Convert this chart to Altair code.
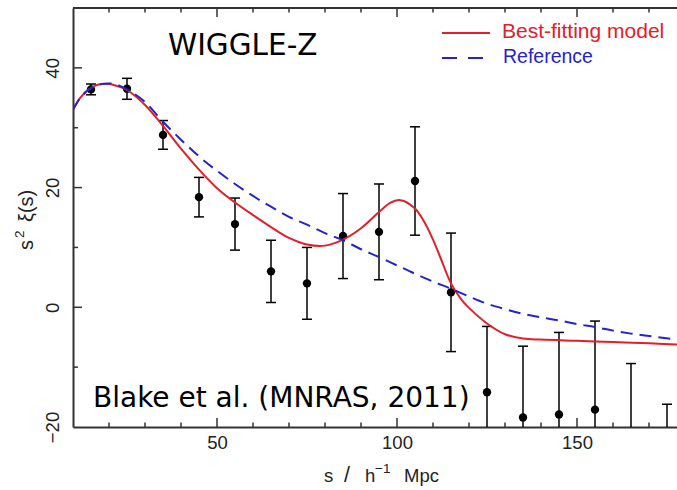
import altair as alt
import pandas as pd

# ---- data ----
s_pts = [15, 25, 35, 45, 55, 65, 75, 85, 95, 105, 115, 125, 135, 145, 155, 165, 175]
xi_pts = [36.4, 36.5, 28.8, 18.4, 13.9, 6.0, 4.0, 11.9, 12.6, 21.1, 2.5,
          -14.2, -18.4, -17.9, -17.1, -25.4, -33.2]
err_pts = [0.9, 1.75, 2.4, 3.3, 4.35, 5.2, 6.0, 7.1, 8.0, 9.05, 9.9,
           11.0, 11.9, 13.7, 14.8, 16.0, 17.0]

s_model = [10, 12, 14, 16, 18, 20, 22, 25, 30, 35, 40, 45, 50, 55, 60, 65, 70, 75, 80, 85,
           90, 95, 98, 101, 105, 108, 110, 112, 115, 118, 120, 125, 130, 135, 140, 150, 160,
           170, 180]
xi_model = [33.0, 35.0, 36.2, 37.0, 37.3, 37.3, 37.0, 36.3, 33.8, 30.3,
            26.5, 23.0, 19.9, 17.5, 15.4, 13.4, 11.6, 10.5, 10.3, 11.3,
            13.2, 15.9, 17.4, 17.9, 16.5, 13.8, 11.3, 8.4, 4.0, 1.2,
            -0.1, -2.7, -4.5, -5.2, -5.4, -5.6, -5.8, -6.0, -6.3]

s_ref = [10, 12, 14, 16, 18, 20, 22, 25, 30, 35, 40, 45, 50, 55, 60, 65, 70, 75, 80, 85,
         90, 95, 100, 105, 110, 115, 120, 125, 130, 135, 140, 145, 150, 155, 160, 165, 170, 180]
xi_ref = [33.0, 35.0, 36.2, 37.0, 37.3, 37.4, 37.2, 36.4, 34.3, 31.0,
          28.0, 25.2, 22.8, 20.6, 18.6, 16.8, 15.1, 13.8, 12.4, 11.2,
          9.7, 8.4, 7.0, 5.6, 4.3, 3.1, 1.8, 0.6, -0.3, -1.1,
          -1.7, -2.2, -2.8, -3.3, -3.9, -4.4, -4.8, -5.6]

x_labels = [50, 100, 150]
x_minor = [20, 30, 40, 60, 70, 80, 90, 110, 120, 130, 140, 160, 170]
y_labels = [-20, 0, 20, 40]
y_major = [0, 20, 40]
y_minor = [-10, 10, 30]

legend_names = ["Best-fitting model", "Reference"]
annot_title = "WIGGLE-Z"
annot_ref = "Blake et al. (MNRAS, 2011)"
x_title_parts = ["s", "/", "h", "−1", "Mpc"]
y_title_parts = ["s", "2", "ξ(s)"]

# ---- layout ----
W, H = 604, 419
PX_PER_UNIT = 3.6
RED = "#e0202a"
BLUE = "#2424c8"
INK = "#222222"
FONT = "Liberation Sans"
FS = 18.5

xs = alt.Scale(domain=[10, 10 + W / PX_PER_UNIT], nice=False, zero=False)
ys = alt.Scale(domain=[-20, 50], nice=False, zero=False)

pts = pd.DataFrame({"s": s_pts, "xi": xi_pts, "err": err_pts})
pts["lo"] = pts["xi"] - pts["err"]
pts["hi"] = pts["xi"] + pts["err"]
model = pd.DataFrame({"s": s_model, "xi": xi_model})
ref = pd.DataFrame({"s": s_ref, "xi": xi_ref})

x_axis = alt.Axis(values=x_labels, title=None, grid=False, ticks=False, tickSize=0,
                  labelFont=FONT, labelFontSize=FS, labelColor=INK, labelPadding=6,
                  labelFlush=False, labelOverlap=False,
                  domainColor="#333333", domainWidth=2)
y_axis = alt.Axis(values=y_labels, title=None, grid=False, ticks=False, tickSize=0,
                  labelFont=FONT, labelFontSize=FS, labelColor=INK, labelPadding=11,
                  labelAngle=270, labelAlign="center", labelBaseline="bottom",
                  labelFlush=False, labelOverlap=False,
                  domainColor="#333333", domainWidth=2)


def X(field):
    return alt.X(field, scale=xs, axis=x_axis)


def Y(field):
    return alt.Y(field, scale=ys, axis=y_axis)


bars = alt.Chart(pts).mark_rule(color="black", strokeWidth=1.5, clip=True).encode(
    x=X("s:Q"), y=Y("lo:Q"), y2="hi:Q")
caps_lo = alt.Chart(pts).mark_rule(color="black", strokeWidth=1.5, xOffset=-5, x2Offset=5,
                                   clip=True).encode(x=X("s:Q"), x2="s:Q", y=Y("lo:Q"))
caps_hi = alt.Chart(pts).mark_rule(color="black", strokeWidth=1.5, xOffset=-5, x2Offset=5,
                                   clip=True).encode(x=X("s:Q"), x2="s:Q", y=Y("hi:Q"))
dots = alt.Chart(pts).mark_circle(color="black", size=70, opacity=1, clip=True).encode(
    x=X("s:Q"), y=Y("xi:Q"))

red_line = alt.Chart(model).mark_line(color=RED, strokeWidth=2, interpolate="catmull-rom",
                                      clip=True).encode(x=X("s:Q"), y=Y("xi:Q"))
blue_line = alt.Chart(ref).mark_line(color=BLUE, strokeWidth=2, strokeDash=[12, 7],
                                     interpolate="monotone", clip=True).encode(
    x=X("s:Q"), y=Y("xi:Q"))

# inward ticks and top frame
one = pd.DataFrame({"k": [0]})
xmaj = pd.DataFrame({"s": x_labels})
xmin = pd.DataFrame({"s": x_minor})
ymaj = pd.DataFrame({"xi": y_major})
ymin = pd.DataFrame({"xi": y_minor})
TK = dict(color="#333333", strokeWidth=1.5)
tick_layers = [
    alt.Chart(xmaj).mark_rule(**TK).encode(x=X("s:Q"), y=alt.value(H), y2=alt.value(H - 9)),
    alt.Chart(xmin).mark_rule(**TK).encode(x=X("s:Q"), y=alt.value(H), y2=alt.value(H - 4.5)),
    alt.Chart(xmaj).mark_rule(**TK).encode(x=X("s:Q"), y=alt.value(0), y2=alt.value(9)),
    alt.Chart(xmin).mark_rule(**TK).encode(x=X("s:Q"), y=alt.value(0), y2=alt.value(4.5)),
    alt.Chart(ymaj).mark_rule(**TK).encode(y=Y("xi:Q"), x=alt.value(0), x2=alt.value(9)),
    alt.Chart(ymin).mark_rule(**TK).encode(y=Y("xi:Q"), x=alt.value(0), x2=alt.value(5)),
    alt.Chart(one).mark_rule(color="#333333", strokeWidth=2).encode(
        x=alt.value(0), x2=alt.value(W), y=alt.value(0)),
]


def label(text, x, y, size, color="black", font=FONT, baseline="alphabetic", angle=0,
          align="left"):
    kw = dict(text=text, font=font, fontSize=size, color=color, align=align,
              baseline=baseline)
    if angle:
        kw["angle"] = angle
    return alt.Chart(one).mark_text(**kw).encode(x=alt.value(x), y=alt.value(y))


# axis titles (pieces placed like the reference)
titles = [
    label(x_title_parts[0], 251, 474, FS, INK),
    label(x_title_parts[1], 271, 474, FS + 3, INK),
    label(x_title_parts[2], 292, 474, FS, INK),
    label(x_title_parts[3], 302, 465, 13.5, INK),
    label(x_title_parts[4], 331, 474, FS, INK),
    label(y_title_parts[0], -40, 242, 20, INK, angle=270),
    label(y_title_parts[1], -49, 230, 13.5, INK, angle=270),
    label(y_title_parts[2], -40, 214, 20, INK, angle=270),
]

# annotations and legend
texts = [
    label(annot_title, 95, 38, 29.5, font="DejaVu Sans", baseline="middle"),
    label(annot_ref, 20, 399, 28, font="DejaVu Sans"),
    alt.Chart(one).mark_rule(color=RED, strokeWidth=2).encode(
        x=alt.value(369), x2=alt.value(417), y=alt.value(25)),
    label(legend_names[0], 429, 24, 21, RED, baseline="middle"),
    alt.Chart(one).mark_rule(color=BLUE, strokeWidth=2, strokeDash=[15, 11]).encode(
        x=alt.value(369), x2=alt.value(410), y=alt.value(50)),
    label(legend_names[1], 430, 49, 19.5, BLUE, baseline="middle"),
]

chart = alt.layer(bars, caps_lo, caps_hi, dots, red_line, blue_line,
                  *tick_layers, *titles, *texts).properties(
    width=W, height=H,
    autosize=alt.AutoSizeParams(type="none"),
    padding={"left": 73, "top": 8, "right": 0, "bottom": 63},
    background="white",
).configure_view(stroke=None)

chart.save("out.html", embed_options={"renderer": "svg", "actions": False})
